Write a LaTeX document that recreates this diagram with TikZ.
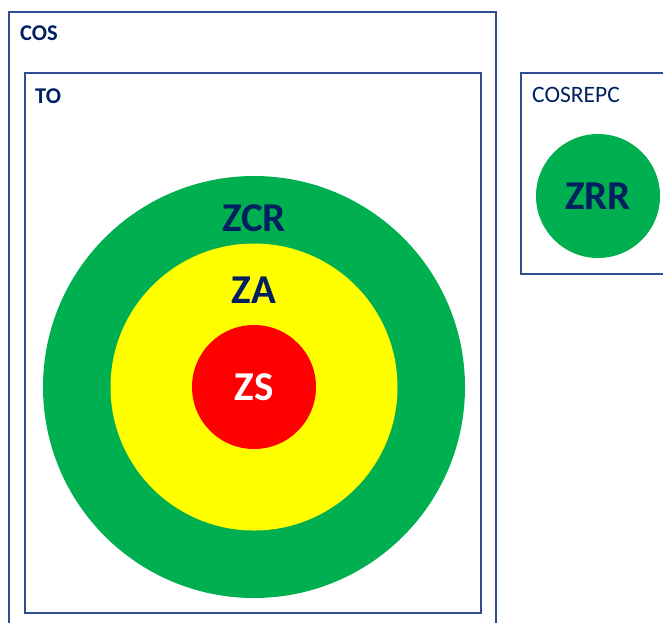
\documentclass[tikz,border=0pt]{standalone}
\usepackage{fontspec}
\setmainfont{Carlito}
\definecolor{kblue}{RGB}{0,32,96}
\definecolor{kframe}{RGB}{47,78,145}
\definecolor{kgreen}{RGB}{0,176,80}
\definecolor{kyellow}{RGB}{255,255,0}
\definecolor{kred}{RGB}{255,0,0}
\tikzset{
  zframe/.style={draw=kframe, line width=1.5pt, inner sep=0pt, anchor=north west},
  ztitle/.style={anchor=west, text=kblue, inner sep=0pt, font=\fontsize{23.5}{23.5}\selectfont},
  zdisc/.style={circle, inner sep=0pt, draw=none},
  zlabel/.style={inner sep=0pt, text=kblue, font=\fontsize{41}{41}\selectfont\bfseries},
}

\begin{document}
\begin{tikzpicture}[x=1pt, y=-1pt]
    \useasboundingbox (0,0) rectangle (663,622);
    \clip (0,0) rectangle (663,622);
    % frames
    \node[zframe, minimum width=487pt, minimum height=640pt] (cos) at (8,11) {};
    \node[zframe, minimum width=456pt, minimum height=540pt] (to) at (24,72) {};
    \node[zframe, minimum width=160pt, minimum height=201pt] (cosrepc) at (520,72) {};
    \node[ztitle, font=\fontsize{22.5}{22.5}\selectfont\bfseries] (coslbl) at (20,33) {COS};
    \node[ztitle, font=\fontsize{22.5}{22.5}\selectfont\bfseries] (tolbl) at (35,96) {TO};
    \node[ztitle] (cosrepclbl) at (532,95) {COSREPC};
    % zones
    \node[zdisc, fill=kgreen, minimum size=422pt] (zcr) at (254,387) {};
    \node[zdisc, fill=kyellow, minimum size=287pt] (za) at (254,387) {};
    \node[zdisc, fill=kred, minimum size=124pt, zlabel, text=white] (zs) at (254,387) {ZS};
    \node[zlabel] (zcrlbl) at (254,218) {ZCR};
    \node[zlabel] (zalbl) at (254,290) {ZA};
    \node[zdisc, fill=kgreen, minimum size=124pt, zlabel] (zrr) at (598,196) {ZRR};
  \end{tikzpicture}
\end{document}
